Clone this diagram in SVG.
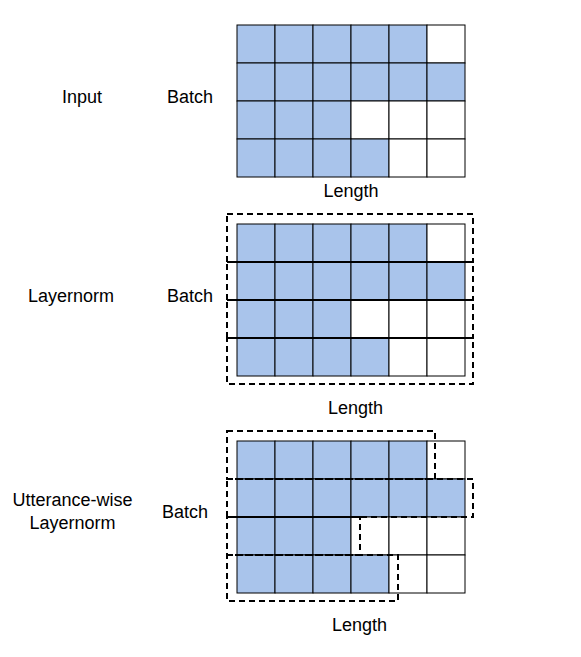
<svg xmlns="http://www.w3.org/2000/svg" width="581" height="657" viewBox="0 0 581 657">
<defs>
<style>
text{font-family:"Liberation Sans",Arial,sans-serif;font-size:18px;fill:#000;text-anchor:middle}
.b{fill:#a9c4eb;stroke:#000;stroke-width:1}
.w{fill:#fff;stroke:#000;stroke-width:1}
.d{fill:none;stroke:#000;stroke-width:2;stroke-dasharray:6 4}
</style>
<g id="rowpattern">
<rect class="b" x="0" y="0" width="38" height="38"/><rect class="b" x="38" y="0" width="38" height="38"/><rect class="b" x="76" y="0" width="38" height="38"/><rect class="b" x="114" y="0" width="38" height="38"/><rect class="b" x="152" y="0" width="38" height="38"/><rect class="w" x="190" y="0" width="38" height="38"/>
<rect class="b" x="0" y="38" width="38" height="38"/><rect class="b" x="38" y="38" width="38" height="38"/><rect class="b" x="76" y="38" width="38" height="38"/><rect class="b" x="114" y="38" width="38" height="38"/><rect class="b" x="152" y="38" width="38" height="38"/><rect class="b" x="190" y="38" width="38" height="38"/>
<rect class="b" x="0" y="76" width="38" height="38"/><rect class="b" x="38" y="76" width="38" height="38"/><rect class="b" x="76" y="76" width="38" height="38"/><rect class="w" x="114" y="76" width="38" height="38"/><rect class="w" x="152" y="76" width="38" height="38"/><rect class="w" x="190" y="76" width="38" height="38"/>
<rect class="b" x="0" y="114" width="38" height="38"/><rect class="b" x="38" y="114" width="38" height="38"/><rect class="b" x="76" y="114" width="38" height="38"/><rect class="b" x="114" y="114" width="38" height="38"/><rect class="w" x="152" y="114" width="38" height="38"/><rect class="w" x="190" y="114" width="38" height="38"/>
</g>
</defs>
<rect width="581" height="657" fill="#fff"/>

<g id="input">
<text x="82" y="103">Input</text>
<text x="190" y="103">Batch</text>
<use href="#rowpattern" x="237" y="25"/>
<text x="351" y="197">Length</text>
</g>

<g id="layernorm">
<text x="71" y="302">Layernorm</text>
<text x="190" y="302">Batch</text>
<use href="#rowpattern" x="237" y="224"/>
<text x="355.5" y="414">Length</text>
</g>

<g id="utterance">
<text x="72.5" y="506">Utterance-wise</text>
<text x="72.5" y="529">Layernorm</text>
<text x="185" y="518">Batch</text>
<use href="#rowpattern" x="237" y="441"/>
<text x="359.5" y="631">Length</text>
</g>

<g id="connectors">
<rect class="d" x="227" y="214" width="246" height="48"/>
<rect class="d" x="227" y="262" width="246" height="38"/>
<rect class="d" x="227" y="300" width="246" height="38"/>
<rect class="d" x="227" y="338" width="246" height="46"/>
<rect class="d" x="227" y="431" width="208" height="48"/>
<rect class="d" x="227" y="479" width="246" height="38"/>
<rect class="d" x="227" y="517" width="133" height="38"/>
<rect class="d" x="227" y="555" width="171" height="46"/>
</g>
</svg>
